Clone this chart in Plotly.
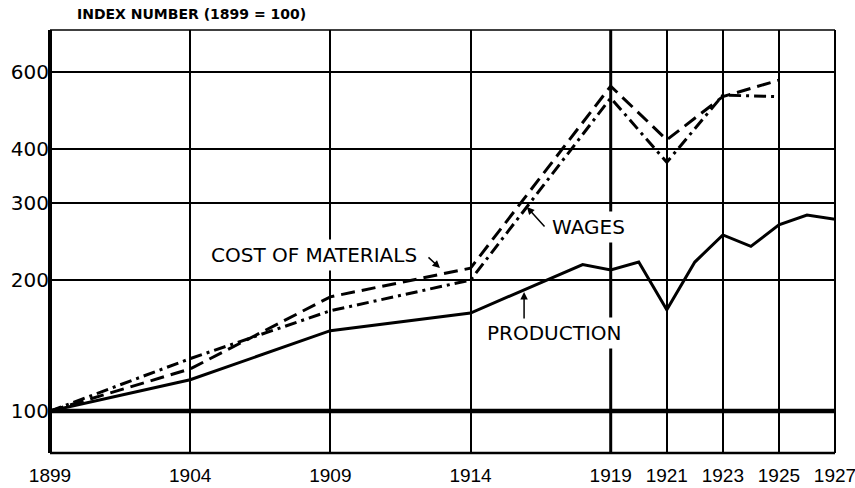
import math
import plotly.graph_objects as go

# ---- data (index numbers, 1899 = 100) ----
census_years = [1899, 1904, 1909, 1914, 1919, 1921, 1923, 1925]
cost_of_materials = [100, 125, 183, 213, 558, 420, 528, 576]
wages = [100, 132, 170, 200, 524, 373, 532, 528]

production_years = [1899, 1904, 1909, 1914, 1918, 1919, 1920, 1921, 1922,
                    1923, 1924, 1925, 1926, 1927]
production = [100, 118, 153, 168, 217, 211, 220, 171, 220,
              254, 239, 268, 282, 276]

x_ticks = [1899, 1904, 1909, 1914, 1919, 1921, 1923, 1925, 1927]
y_ticks = [100, 200, 300, 400, 600]

FONT = "DejaVu Sans"
L = math.log10
Y_LO, Y_HI = 80.1, 751

fig = go.Figure()
fig.add_trace(go.Scatter(x=production_years, y=production, mode="lines",
                         line=dict(color="black", width=3), name="Production"))
fig.add_trace(go.Scatter(x=census_years, y=cost_of_materials, mode="lines",
                         line=dict(color="black", width=3, dash="14px,7px"),
                         name="Cost of materials"))
fig.add_trace(go.Scatter(x=census_years, y=wages, mode="lines",
                         line=dict(color="black", width=3, dash="12px,5px,3px,5px"),
                         name="Wages"))

fig.update_layout(
    width=855, height=488,
    margin=dict(l=50, r=20, t=30, b=35),
    paper_bgcolor="white", plot_bgcolor="white",
    showlegend=False,
    font=dict(family=FONT, color="black"),
    xaxis=dict(range=[1899, 1927], tickvals=x_ticks, ticktext=[str(v) for v in x_ticks],
               showgrid=True, gridcolor="black", gridwidth=1.5, zeroline=False,
               showline=False, ticks="", ticklabelstandoff=9, automargin=False,
               ticklabeloverflow="allow",
               tickfont=dict(family="Liberation Sans", size=19, color="black")),
    yaxis=dict(type="log", range=[L(Y_LO), L(Y_HI)], tickvals=y_ticks,
               ticktext=[str(v) for v in y_ticks],
               showgrid=True, gridcolor="black", gridwidth=1.5, zeroline=False,
               showline=False, ticks="", ticklabelstandoff=0, automargin=False,
               tickfont=dict(family=FONT, size=20, color="black")),
)

# frame and emphasised lines
frame = [
    dict(x0=0, x1=0, y0=0, y1=1, w=4),
    dict(x0=1, x1=1, y0=0, y1=1, w=2),
    dict(x0=0, x1=1, y0=1, y1=1, w=1.5),
    dict(x0=0, x1=1, y0=0, y1=0, w=2.5),
]
for f in frame:
    fig.add_shape(type="line", xref="paper", yref="paper", x0=f["x0"], x1=f["x1"],
                  y0=f["y0"], y1=f["y1"], line=dict(color="black", width=f["w"]))
base_frac = (L(100) - L(Y_LO)) / (L(Y_HI) - L(Y_LO))
fig.add_shape(type="line", xref="paper", yref="paper", x0=0, x1=1,
              y0=base_frac, y1=base_frac, line=dict(color="black", width=4.5))
fig.add_shape(type="line", xref="x", yref="paper", x0=1919, x1=1919, y0=0, y1=1,
              line=dict(color="black", width=3), layer="below")

# title
fig.add_annotation(text="<b>INDEX NUMBER (1899 = 100)</b>", xref="paper", yref="paper",
                   x=0.032, y=1.038, xanchor="left", yanchor="middle", showarrow=False,
                   font=dict(family=FONT, size=14, color="black"))

# series labels
labels = [
    ("COST OF MATERIALS", 1904.60, 2.3586),
    ("WAGES", 1916.76, 2.4229),
    ("PRODUCTION", 1914.45, 2.1805),
]
for txt, x, y in labels:
    fig.add_annotation(text=txt, x=x, y=y, xref="x", yref="y", xanchor="left",
                       yanchor="middle", showarrow=False, bgcolor="white", borderpad=3,
                       font=dict(family=FONT, size=20, color="black"))

# pointer arrows
arrows = [
    (1912.91, 2.3287, -13, -12),
    (1916.01, 2.4689, 19, 21),
    (1915.91, 2.2735, 0, 28),
]
for x, y, ax, ay in arrows:
    fig.add_annotation(text="", x=x, y=y, xref="x", yref="y", ax=ax, ay=ay,
                       axref="pixel", ayref="pixel", showarrow=True, arrowhead=2,
                       arrowsize=1, arrowwidth=1.5, arrowcolor="black", standoff=0)

fig.write_html("out.html", config={"displayModeBar": False},
               post_script="document.body.style.margin='0';document.body.style.overflow='hidden';")
